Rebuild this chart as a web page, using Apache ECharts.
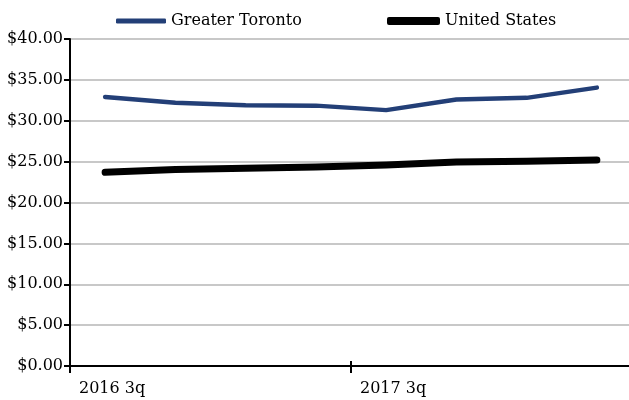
<!DOCTYPE html>
<html>
<head>
<meta charset="utf-8">
<style>
  html, body { margin: 0; padding: 0; background: #fff; }
  #chart { width: 629px; height: 400px; }
</style>
<script src="https://cdn.jsdelivr.net/npm/echarts@6/dist/echarts.min.js"></script>
</head>
<body>
<div id="chart"></div>
<script>
// Quarterly values, 2016 3q through 2018 2q
const quarters = ['2016 3q', '2016 4q', '2017 1q', '2017 2q', '2017 3q', '2017 4q', '2018 1q', '2018 2q'];
const greaterToronto = [32.9, 32.2, 31.9, 31.85, 31.3, 32.6, 32.8, 34.05];
const unitedStates = [23.7, 24.05, 24.2, 24.35, 24.6, 24.95, 25.05, 25.2];
// Labels shown at the start of every fourth quarter
const xTickLabels = ['2016 3q', '2017 3q', ''];

const FONT = 'DejaVu Serif';
const BLUE = '#233f77';
const TEXT = '#000';

const chart = echarts.init(document.getElementById('chart'), null, { renderer: 'canvas' });

chart.setOption({
  animation: false,
  backgroundColor: '#ffffff',
  textStyle: { fontFamily: FONT, color: TEXT },
  legend: [
    {
      data: [{ name: 'Greater Toronto', icon: 'roundRect' }],
      left: 111, top: 8,
      itemWidth: 50, itemHeight: 5,
      itemStyle: { color: BLUE },
      textStyle: { fontFamily: FONT, fontSize: 16, color: TEXT }
    },
    {
      data: [{ name: 'United States', icon: 'roundRect' }],
      left: 382, top: 8,
      itemWidth: 53, itemHeight: 8,
      itemStyle: { color: '#000' },
      textStyle: { fontFamily: FONT, fontSize: 16, color: TEXT }
    }
  ],
  grid: {
    left: 70, width: 562, top: 39, bottom: 34,
    containLabel: false,
    outerBoundsMode: 'none'
  },
  xAxis: [
    {
      type: 'category',
      data: quarters,
      boundaryGap: true,
      axisLine: { show: true, lineStyle: { color: '#000', width: 2 } },
      axisTick: { show: true, interval: 3, length: 7, lineStyle: { color: '#000', width: 2 } },
      axisLabel: { show: false },
      splitLine: { show: false }
    },
    {
      type: 'value',
      min: 0, max: quarters.length, interval: 4,
      position: 'bottom',
      axisLine: { show: false },
      axisTick: { show: true, inside: true, length: 5, lineStyle: { color: '#000', width: 2 } },
      splitLine: { show: false },
      axisLabel: {
        show: true,
        margin: 15,
        align: 'left',
        padding: [0, 0, 0, 9],
        fontFamily: FONT, fontSize: 16, color: TEXT,
        formatter: v => xTickLabels[Math.round(v / 4)] || ''
      }
    }
  ],
  yAxis: {
    type: 'value',
    min: 0, max: 40, interval: 5,
    axisLine: { show: true, lineStyle: { color: '#000', width: 2 } },
    axisTick: { show: true, length: 6, lineStyle: { color: '#000', width: 2 } },
    axisLabel: {
      margin: 7,
      fontFamily: FONT, fontSize: 16, color: TEXT,
      formatter: v => '$' + v.toFixed(2)
    },
    splitLine: { show: true, lineStyle: { color: '#c8c8c8', width: 2 } }
  },
  series: [
    {
      name: 'Greater Toronto',
      type: 'line',
      xAxisIndex: 0,
      data: greaterToronto,
      showSymbol: false,
      symbol: 'none',
      color: BLUE,
      lineStyle: { color: BLUE, width: 4.5, cap: 'round', join: 'round' }
    },
    {
      name: 'United States',
      type: 'line',
      xAxisIndex: 0,
      data: unitedStates,
      showSymbol: false,
      symbol: 'none',
      color: '#000',
      lineStyle: { color: '#000', width: 7, cap: 'round', join: 'round' }
    }
  ]
});
</script>
</body>
</html>
